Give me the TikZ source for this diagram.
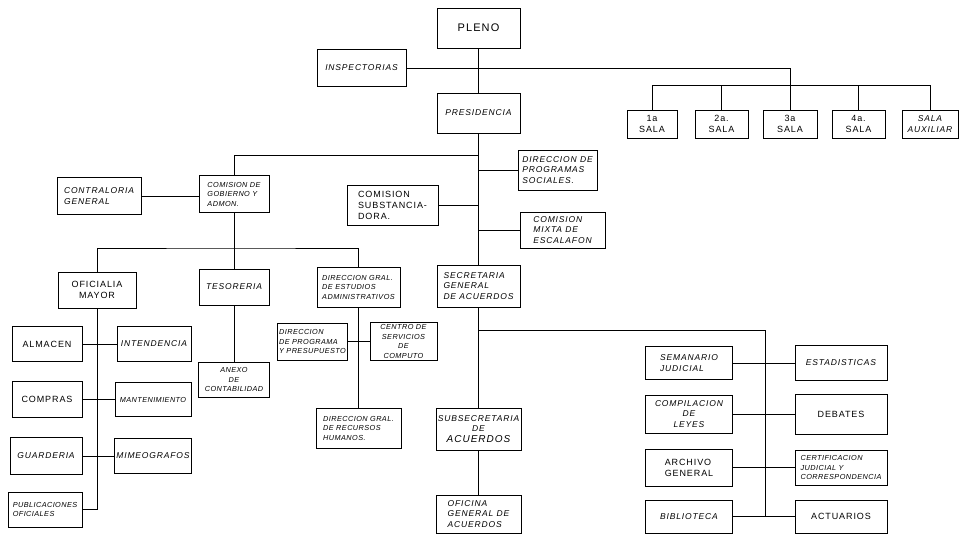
\documentclass[tikz,border=0pt]{standalone}
\usepackage{fontspec}
\newfontfamily\mano[LetterSpace=10]{Liberation Sans}
\newfontfamily\manoc[LetterSpace=6]{Liberation Sans}
\usetikzlibrary{calc}
\tikzset{
	caja/.style={draw, line width=0.9pt, inner sep=1.5pt, align=left, font=\mano\itshape\fontsize{8.5}{10.5}\selectfont},
	cajac/.style={caja, font=\manoc\itshape\fontsize{7.3}{9.5}\selectfont},
	cajag/.style={caja, font=\mano\fontsize{9}{11}\selectfont},
	linea/.style={line width=0.9pt}
}

\begin{document}
\begin{tikzpicture}[x=1pt, y=-1pt]
				%%%%% START %%%%%
				\useasboundingbox (0,0) rectangle (960,536);
				
				\node[cajag, font=\mano\fontsize{11}{13}\selectfont, minimum width=83pt, minimum height=40pt] (pleno) at (478.5,28) {PLENO};
				\node[caja, minimum width=89pt, minimum height=37pt] (insp) at (361.5,68) {INSPECTORIAS};
				\node[caja, minimum width=83pt, minimum height=40pt] (presid) at (478.5,113) {PRESIDENCIA};
				
				\node[cajag, align=center, minimum width=50pt, minimum height=28pt] (sala1) at (652,124) {1a\\SALA};
				\node[cajag, align=center, minimum width=53pt, minimum height=28pt] (sala2) at (721.5,124) {2a.\\SALA};
				\node[cajag, align=center, minimum width=54pt, minimum height=28pt] (sala3) at (790,124) {3a\\SALA};
				\node[cajag, align=center, minimum width=53pt, minimum height=28pt] (sala4) at (858.5,124) {4a.\\SALA};
				\node[caja, align=center, minimum width=56pt, minimum height=28pt] (salaAux) at (930,124) {SALA\\AUXILIAR};
				
				\node[caja, minimum width=84pt, minimum height=37pt] (contral) at (99,196) {CONTRALORIA\\GENERAL};
				\node[cajac, minimum width=70pt, minimum height=37pt] (comGob) at (234,194) {COMISION DE\\GOBIERNO Y\\ADMON.};
				\node[caja, minimum width=79pt, minimum height=40pt] (dirProg) at (557.5,170) {DIRECCION DE\\PROGRAMAS\\SOCIALES.};
				\node[cajag, minimum width=91pt, minimum height=40pt] (comSubs) at (392.5,205) {COMISION\\SUBSTANCIA-\\DORA.};
				\node[caja, minimum width=85pt, minimum height=36pt] (comMixta) at (562.5,230) {COMISION\\MIXTA DE\\ESCALAFON};
				\node[caja, minimum width=83pt, minimum height=42pt] (secGen) at (478.5,286) {SECRETARIA\\GENERAL\\DE ACUERDOS};
				
				\node[cajag, align=center, minimum width=78pt, minimum height=36pt] (ofMayor) at (97,290) {OFICIALIA\\MAYOR};
				\node[caja, minimum width=70pt, minimum height=36pt] (tesor) at (234,287) {TESORERIA};
				\node[cajac, minimum width=83pt, minimum height=40pt] (dirEst) at (358.5,287) {DIRECCION GRAL.\\DE ESTUDIOS\\ADMINISTRATIVOS};
				
				\node[cajag, minimum width=70pt, minimum height=35pt] (almacen) at (47,344) {ALMACEN};
				\node[caja, minimum width=74pt, minimum height=35pt] (intend) at (154,344) {INTENDENCIA};
				\node[cajag, minimum width=70pt, minimum height=36pt] (compras) at (47,399.5) {COMPRAS};
				\node[cajac, minimum width=76pt, minimum height=34pt] (mant) at (153,399.5) {MANTENIMIENTO};
				\node[caja, minimum width=72pt, minimum height=37pt] (guard) at (46,456) {GUARDERIA};
				\node[caja, minimum width=76pt, minimum height=35pt] (mimeo) at (153,456) {MIMEOGRAFOS};
				\node[cajac, minimum width=74pt, minimum height=35pt] (public) at (45,509.5) {PUBLICACIONES\\OFICIALES};
				
				\node[cajac, align=center, minimum width=71pt, minimum height=35pt] (anexo) at (234,379.5) {ANEXO\\DE\\CONTABILIDAD};
				\node[cajac, minimum width=69pt, minimum height=37pt] (dirPresup) at (312.5,341.5) {DIRECCION\\DE PROGRAMA\\Y PRESUPUESTO};
				\node[cajac, align=center, minimum width=67pt, minimum height=38pt] (centro) at (403.5,341.5) {CENTRO DE\\SERVICIOS\\DE\\COMPUTO};
				\node[cajac, minimum width=85pt, minimum height=40pt] (dirRH) at (358.5,428) {DIRECCION GRAL.\\DE RECURSOS\\HUMANOS.};
				
				\node[caja, align=center, minimum width=85pt, minimum height=42pt] (subsec) at (478.5,429) {SUBSECRETARIA\\DE\\{\fontsize{10}{12}\selectfont ACUERDOS}};
				\node[caja, minimum width=85pt, minimum height=38pt] (ofGenAc) at (478.5,514) {OFICINA\\GENERAL DE\\ACUERDOS};
				
				\node[caja, minimum width=87pt, minimum height=33pt] (seman) at (689,363) {SEMANARIO\\JUDICIAL};
				\node[caja, align=center, minimum width=87pt, minimum height=38pt] (compil) at (689,414) {COMPILACION\\DE\\LEYES};
				\node[cajag, minimum width=87pt, minimum height=37pt] (archivo) at (689,467.5) {ARCHIVO\\GENERAL};
				\node[caja, minimum width=87pt, minimum height=33pt] (biblio) at (689,516.5) {BIBLIOTECA};
				\node[caja, minimum width=92pt, minimum height=35pt] (estad) at (841,363) {ESTADISTICAS};
				\node[cajag, minimum width=92pt, minimum height=40pt] (debates) at (841,414) {DEBATES};
				\node[cajac, minimum width=92pt, minimum height=35pt] (certif) at (841,467.5) {CERTIFICACION\\JUDICIAL Y\\CORRESPONDENCIA};
				\node[cajag, minimum width=92pt, minimum height=33pt] (actuar) at (841,516.5) {ACTUARIOS};
				
				% puntos de quiebre
				\coordinate (busSala) at (0,85);
				\coordinate (rGob) at (478.5,155);
				\coordinate (busAdm) at (234,248);
				\coordinate (rSec) at (478.5,330);
				\coordinate (colDer) at (765,516.5);
				
				% pleno, salas, presidencia
				\draw[linea] (pleno) -- (presid);
				\draw[linea] (insp) -- (insp -| sala3) -- (sala3);
				\draw[linea] (sala1) |- (busSala -| salaAux) -- (salaAux);
				\draw[linea] (sala2) -- (sala2 |- busSala);
				\draw[linea] (sala4) -- (sala4 |- busSala);
				
				\draw[linea] (presid) -- (secGen);
				\draw[linea] (rGob) -| (comGob);
				\draw[linea] (dirProg) -- (dirProg -| presid);
				\draw[linea] (comSubs) -- (comSubs -| presid);
				\draw[linea] (comMixta) -- (comMixta -| presid);
				\draw[linea] (contral) -- (contral -| comGob.west);
				
				% administracion
				\draw[linea] (comGob) -- (tesor);
				\draw[linea] (ofMayor) |- (busAdm) -| (dirEst);
				\draw[linea] (tesor) -- (anexo);
				\draw[linea] (dirEst) -- (dirRH);
				\draw[linea] (dirPresup) -- (centro);
				
				\draw[linea] (ofMayor) |- (public);
				\draw[linea] (almacen) -- (intend);
				\draw[linea] (compras) -- (mant);
				\draw[linea] (guard) -- (mimeo);
				
				% secretaria general
				\draw[linea] (secGen) -- (subsec);
				\draw[linea] (subsec) -- (ofGenAc);
				\draw[linea] (rSec) -| (colDer);
				\draw[linea] (seman) -- (estad);
				\draw[linea] (compil) -- (debates);
				\draw[linea] (archivo) -- (certif);
				\draw[linea] (biblio) -- (actuar);
				%%%%% END %%%%%
\end{tikzpicture}
\end{document}
